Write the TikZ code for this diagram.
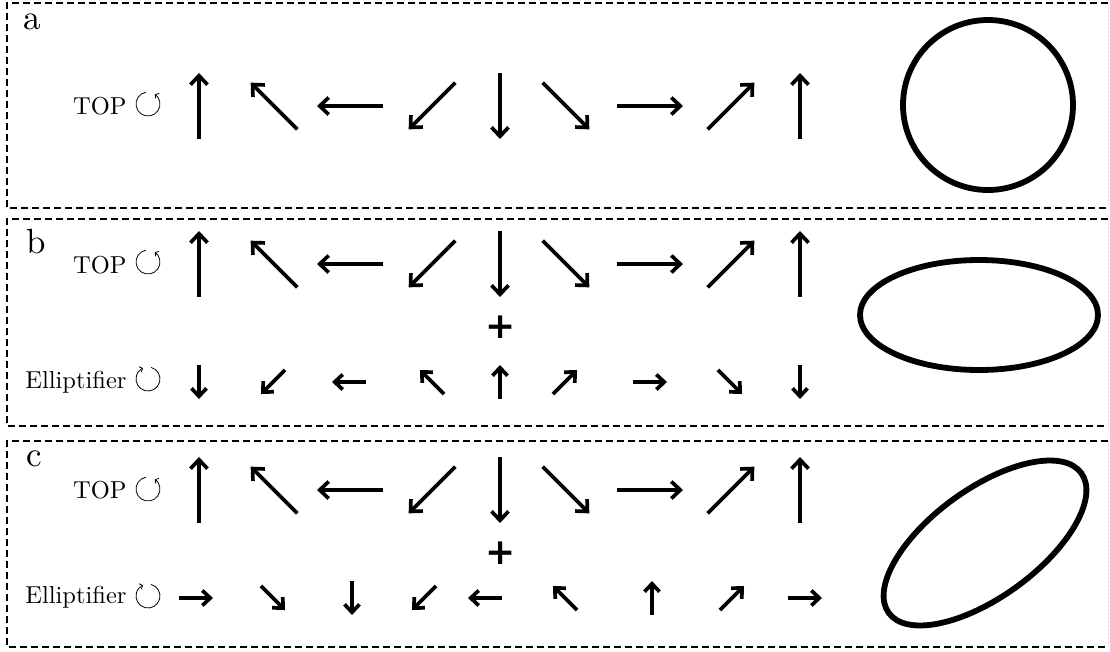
\documentclass[tikz,border=0pt]{standalone}
\usepackage{fontspec}
\newfontfamily\plusfont{DejaVu Sans}
\usetikzlibrary{arrows.meta}
\newcommand\myarr[5]{\draw[#5] (#1,#2) ++({180-#3}:#4) -- ++({-#3}:{2*#4});}
\begin{document}
\begin{tikzpicture}[x=1pt,y=-1pt,
  bigvec/.style={line width=3.7pt, -{Straight Barb[length=9pt,width=17pt]}},
  smallvec/.style={line width=3.7pt, -{Straight Barb[length=8pt,width=15pt]}},
  panel/.style={dash pattern=on 7pt off 4pt, line width=1.2pt},
  faintedge/.style={dash pattern=on 2pt off 2pt, line width=1pt, gray!25},
  ring/.style={line width=5.8pt},
  rot/.style={line width=0.8pt, -{Straight Barb[length=2.5pt,width=6pt,line width=0.8pt]}},
  lbl/.style={font=\fontsize{10}{12}\selectfont, scale=2.45, transform shape, anchor=base east, inner sep=0pt},
  tag/.style={font=\fontsize{10}{12}\selectfont, scale=3.5, transform shape, anchor=base west, inner sep=0pt},
  plus/.style={font=\plusfont\bfseries\fontsize{36}{38}\selectfont, inner sep=0pt}]
\useasboundingbox (0,0) rectangle (1110,651);
% panels
\draw[panel] (1108,3) -- (7,3) -- (7,208) -- (1108,208);
\draw[faintedge] (1108,3) -- (1108,208);
\draw[panel] (1108,219) -- (7,219) -- (7,426) -- (1108,426);
\draw[faintedge] (1108,219) -- (1108,426);
\draw[panel] (1108,441) -- (7,441) -- (7,647) -- (1108,647);
\draw[faintedge] (1108,441) -- (1108,647);
% tags
\node[tag] (ta) at (23,29) {a};
\node[tag] (tb) at (26,253) {b};
\node[tag] (tc) at (26,466) {c};
% labels
\node[lbl] (la) at (127,114) {TOP};
\node[lbl] (lb1) at (127,273) {TOP};
\node[lbl] (lb2) at (127,388) {Elliptifier};
\node[lbl] (lc1) at (127,498) {TOP};
\node[lbl] (lc2) at (127,603) {Elliptifier};
% rotation symbols
\foreach \yy in {104,262,489} {
  \draw[rot] (148,\yy) ++(-100:12) arc[start angle=-100, end angle=-415, radius=12];
}
\foreach \yy in {379,596} {
  \draw[rot] (148,\yy) ++(-75:12) arc[start angle=-75, end angle=245, radius=12];
}
% top rows
\foreach \yy in {106,264,490} {
  \foreach \xx/\aa in {199/90,274/135,350/180,432/225,500/270,566/315,650/0,731/45,800/90} {
    \myarr{\xx}{\yy}{\aa}{33}{bigvec}
  }
}
% plus signs
\node[plus] (pb) at (501,327) {+};
\node[plus] (pc) at (501,553) {+};
% bottom row b
\foreach \xx/\aa in {199/270,273/225,349/180,432/135,500/90,565/45,650/0,730/315,800/270} {
  \myarr{\xx}{382}{\aa}{17}{smallvec}
}
% bottom row c
\foreach \xx/\aa in {196/0,273/315,352/270,424/225,485/180,565/135,652/90,732/45,805/0} {
  \myarr{\xx}{598}{\aa}{17}{smallvec}
}
% shapes
\draw[ring] (988,105) circle[radius=85];
\draw[ring] (979,315) ellipse[x radius=119, y radius=55];
\draw[ring, rotate around={36:(985,543)}] (985,543) ellipse[x radius=119, y radius=54];
\end{tikzpicture}
\end{document}
